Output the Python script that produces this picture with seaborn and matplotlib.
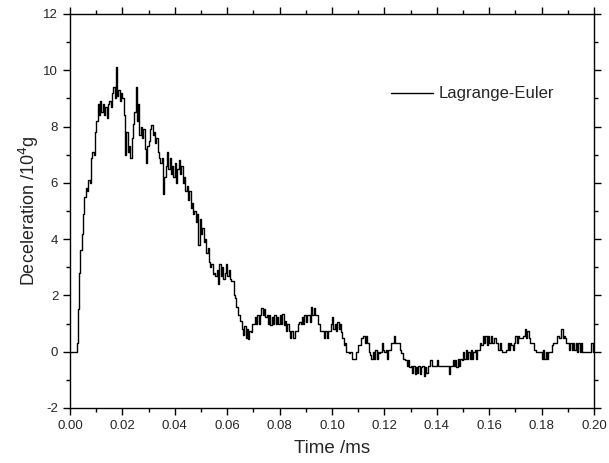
import numpy as np
import pandas as pd
import matplotlib
matplotlib.use("Agg")
import matplotlib.pyplot as plt
import seaborn as sns
from matplotlib.ticker import MultipleLocator, FormatStrFormatter

# Sampling interval of the trace (ms)
sample_interval_ms = 0.0005

# Deceleration (10^4 g), one row per 0.01 ms (20 samples each)
decel = [
    0, 0, 0, 0, 0, 0.3, 1.5, 2.8, 3.6, 4.2, 4.9, 5.5, 5.8, 5.7, 6.1, 6.0, 6.9, 7.1, 7.0, 7.8,
    8.2, 8.8, 8.4, 8.9, 8.5, 8.8, 8.4, 8.7, 8.3, 8.8, 8.9, 8.7, 9.2, 9.4, 9.0, 10.1, 9.1, 9.3, 8.9, 9.2,
    9.0, 8.4, 7.0, 7.8, 7.1, 7.3, 6.9, 7.6, 8.1, 8.5, 9.4, 8.2, 8.8, 7.7, 8.0, 7.6, 7.9, 7.2, 6.7, 7.3,
    7.5, 7.9, 8.05, 7.7, 7.8, 7.4, 7.6, 7.1, 6.9, 6.7, 6.9, 5.6, 6.2, 6.6, 7.1, 6.5, 6.9, 6.3, 6.6, 6.2,
    6.7, 6.0, 6.5, 6.8, 6.3, 6.6, 6.0, 6.2, 5.7, 5.9, 5.4, 5.7, 5.1, 5.3, 4.9, 5.0, 4.6, 4.9, 3.8, 4.7,
    4.2, 4.4, 3.9, 4.0, 3.5, 3.7, 3.2, 3.0, 3.1, 2.75, 2.8, 2.7, 2.9, 2.4, 3.1, 2.7, 3.0, 2.6, 2.8, 3.1,
    2.7, 2.9, 2.6, 2.5, 2.5, 2.0, 1.9, 1.6, 1.3, 1.3, 1.1, 0.8, 0.6, 0.9, 0.5, 0.8, 0.45, 0.75, 0.7, 1.0,
    1.0, 1.25, 1.0, 1.3, 1.0, 1.3, 1.55, 1.3, 1.5, 1.25, 1.3, 1.0, 1.3, 0.95, 1.25, 1.0, 1.3, 1.0, 1.25, 1.0,
    1.3, 1.0, 1.35, 0.95, 1.1, 0.75, 1.0, 0.75, 0.5, 0.75, 0.47, 0.5, 0.75, 0.75, 1.0, 1.05, 1.0, 1.25, 1.0, 1.3,
    1.05, 1.3, 1.3, 1.05, 1.6, 1.3, 1.55, 1.3, 1.3, 1.0, 1.0, 0.75, 0.75, 0.75, 0.5, 0.75, 0.5, 0.75, 0.75, 1.0,
    1.25, 0.8, 1.0, 0.75, 1.05, 0.8, 1.0, 0.7, 0.5, 0.25, 0.3, 0.0, 0.0, -0.05, 0.0, -0.25, -0.25, -0.25, 0.0, 0.0,
    0.25, 0.25, 0.5, 0.5, 0.55, 0.3, 0.55, 0.3, 0.0, -0.1, -0.25, 0.0, -0.25, 0.05, -0.25, 0.0, -0.05, 0.0, 0.3, 0.05,
    0.0, 0.05, -0.25, 0.05, 0.05, 0.3, 0.3, 0.55, 0.3, 0.3, 0.3, 0.3, 0.05, -0.05, -0.25, -0.25, -0.3, -0.5, -0.3, -0.55,
    -0.5, -0.75, -0.5, -0.8, -0.55, -0.75, -0.5, -0.8, -0.55, -0.5, -0.85, -0.55, -0.75, -0.5, -0.5, -0.3, -0.5, -0.5, -0.5, -0.5,
    -0.3, -0.5, -0.5, -0.5, -0.5, -0.5, -0.5, -0.5, -0.5, -0.8, -0.5, -0.5, -0.3, -0.5, -0.3, -0.55, -0.25, -0.5, -0.25, -0.3,
    0.0, -0.25, 0.05, -0.25, 0.0, -0.25, 0.05, -0.25, 0.0, 0.05, -0.25, 0.05, 0.05, 0.3, 0.25, 0.55, 0.3, 0.55, 0.25, 0.55,
    0.3, 0.55, 0.3, 0.3, 0.5, 0.3, 0.3, 0.05, 0.3, 0.05, 0.0, 0.0, 0.0, 0.05, 0.3, 0.05, 0.3, 0.25, 0.05, 0.3,
    0.55, 0.3, 0.55, 0.5, 0.5, 0.5, 0.55, 0.8, 0.5, 0.75, 0.5, 0.3, 0.3, 0.3, 0.05, 0.05, 0.0, 0.0, 0.0, 0.0,
    -0.25, 0.05, -0.25, 0.0, -0.25, 0.0, 0.0, 0.0, 0.25, 0.3, 0.3, 0.3, 0.55, 0.5, 0.5, 0.8, 0.5, 0.55, 0.5, 0.3,
    0.3, 0.05, 0.3, 0.05, 0.3, 0.05, 0.3, 0.0, 0.3, 0.0, 0.3, 0.0, 0.0, 0.0, 0.0, 0.0, 0.0, 0.0, 0.3, 0.0,
    0.0,
]
time_ms = np.round(np.arange(len(decel)) * sample_interval_ms, 4)
series_name = "Lagrange-Euler"

x_ticks = [0.00, 0.02, 0.04, 0.06, 0.08, 0.10, 0.12, 0.14, 0.16, 0.18, 0.20]
y_ticks = [-2, 0, 2, 4, 6, 8, 10, 12]

df = pd.DataFrame({"Time": time_ms, "Deceleration": decel, "Series": series_name})

sns.set_style("ticks")
plt.rcParams["font.family"] = ["Liberation Sans", "DejaVu Sans"]
plt.rcParams["axes.unicode_minus"] = False

fig = plt.figure(figsize=(6.09, 4.63), dpi=100)
ax = fig.add_axes([70 / 609, 1 - 408 / 463, 524 / 609, 394 / 463])

sns.lineplot(data=df, x="Time", y="Deceleration", hue="Series",
             palette=["black"], linewidth=1.0, drawstyle="steps-post",
             ax=ax, legend=True)

ax.set_xlim(0, 0.20)
ax.set_ylim(-2, 12)
ax.set_xticks(x_ticks)
ax.set_yticks(y_ticks)
ax.xaxis.set_major_formatter(FormatStrFormatter("%.2f"))
ax.xaxis.set_minor_locator(MultipleLocator(0.01))
ax.yaxis.set_minor_locator(MultipleLocator(1))
ax.tick_params(which="both", direction="out", top=True, right=True,
               labeltop=False, labelright=False, labelsize=9.5, color="black",
               width=1.0)
ax.tick_params(which="major", length=5)
ax.tick_params(which="minor", length=3)
for sp in ax.spines.values():
    sp.set_visible(True)
    sp.set_linewidth(1.0)
    sp.set_color("black")

ax.set_xlabel("Time /ms", fontsize=13.5, labelpad=6)
ax.set_ylabel("Deceleration /10$^{4}$g", fontsize=13, labelpad=2)

ax.legend(handles=ax.get_legend().legend_handles, labels=[series_name],
          loc="center left", bbox_to_anchor=(0.613, 0.797), frameon=False,
          fontsize=12, handlelength=2.5, handletextpad=0.35,
          borderpad=0, borderaxespad=0)

fig.savefig("out.png", dpi=100)
